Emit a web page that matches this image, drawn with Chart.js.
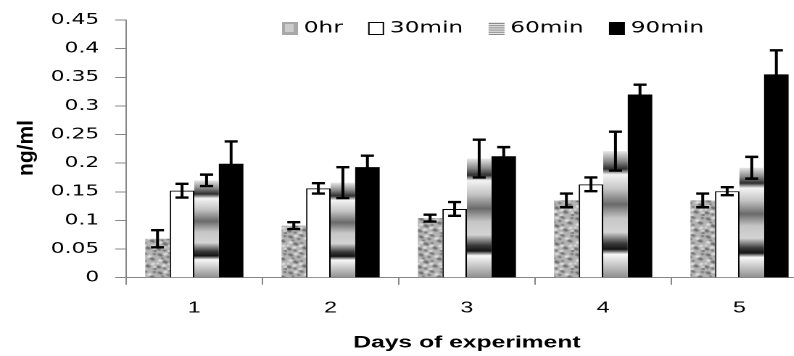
<!DOCTYPE html>
<html><head><meta charset="utf-8">
<script src="https://cdn.jsdelivr.net/npm/chart.js@4.4.1/dist/chart.umd.min.js"></script>
<style>
html,body{margin:0;padding:0;background:#fff;overflow:hidden;}
#wrap{width:794px;height:356px;overflow:hidden;position:relative;background:#fff;}
#c{display:block;}
</style></head><body>
<div id="wrap"><canvas id="c" width="560" height="356" style="width:812px;height:356px"></canvas></div>
<script>
// ---- data ----
const categories = ['1', '2', '3', '4', '5'];
const seriesLabels = ['0hr', '30min', '60min', '90min'];
const values0hr  = [0.068, 0.091, 0.104, 0.135, 0.135];
const values30   = [0.152, 0.156, 0.120, 0.163, 0.151];
const values60   = [0.170, 0.166, 0.208, 0.221, 0.192];
const values90   = [0.199, 0.193, 0.212, 0.320, 0.355];
const err0hr = [0.015, 0.006, 0.006, 0.012, 0.012];
const err30  = [0.012, 0.009, 0.012, 0.012, 0.007];
const err60  = [0.010, 0.027, 0.033, 0.034, 0.019];
const err90  = [0.039, 0.020, 0.016, 0.017, 0.042];
const yTickLabels = ['0', '0.05', '0.1', '0.15', '0.2', '0.25', '0.3', '0.35', '0.4', '0.45'];
const xTitle = 'Days of experiment';
const yTitle = 'ng/ml';

// ---- textures ----
function makeGranite() {
  const t = document.createElement('canvas');
  t.width = 36; t.height = 36;
  const g = t.getContext('2d');
  g.fillStyle = '#b4b4b4'; g.fillRect(0, 0, 36, 36);
  g.filter = 'blur(1.2px)';
  const dark = [[5,6,4,2.6],[20,3,3.5,2.2],[30,14,4,2.6],[12,20,4.2,2.8],[3,30,3.6,2.6],[24,28,4,2.8],[34,34,3,2.2],[16,10,2.6,2],[33,4,2.4,2],[8,13,2,2.2],[20,18,2.2,1.8],[11,33,2.6,2]];
  const light = [[12,4,3,2.2],[26,9,3.2,2.4],[5,17,3,2.6],[19,24,3.2,2.4],[31,24,3,2.2],[10,27,3,2.4],[18,34,2.8,2],[1,23,2.2,2],[33,30,2.2,1.8]];
  g.fillStyle = '#6e6e6e';
  dark.forEach(([x,y,rx,ry]) => { g.beginPath(); g.ellipse(x,y,rx,ry,0.6,0,Math.PI*2); g.fill(); });
  g.fillStyle = '#e2e2e2';
  light.forEach(([x,y,rx,ry]) => { g.beginPath(); g.ellipse(x,y,rx,ry,-0.4,0,Math.PI*2); g.fill(); });
  return t;
}
const graniteTile = makeGranite();
const cvs = document.getElementById('c');
const mainCtx = cvs.getContext('2d');
const granite = mainCtx.createPattern(graniteTile, 'repeat');
try { granite.setTransform(new DOMMatrix().scale(0.5, 0.5)); } catch (e) {}

const bandStops = [
  [0.00, '#e8e8e8'], [0.08, '#8a8a8a'], [0.14, '#2e2e2e'], [0.185, '#f4f4f4'],
  [0.30, '#c4c4c4'], [0.42, '#6a6a6a'], [0.53, '#c6c6c6'], [0.64, '#d4d4d4'],
  [0.73, '#3a3a3a'], [0.775, '#151515'], [0.815, '#f8f8f8'], [1.00, '#8e8e8e']
];
function bandFill(c) {
  const chart = c.chart;
  if (c.type !== 'data' || !chart.scales || !chart.scales.y) return '#999';
  const ys = chart.scales.y;
  const top = ys.getPixelForValue(c.raw);
  const base = ys.getPixelForValue(0);
  if (!isFinite(top) || !isFinite(base) || base - top < 1) return '#999';
  const gr = chart.ctx.createLinearGradient(0, top, 0, base);
  bandStops.forEach(([o, col]) => gr.addColorStop(o, col));
  return gr;
}

const errs = [err0hr, err30, err60, err90];

const errorBars = {
  id: 'errorBars',
  afterDatasetsDraw(chart) {
    const ctx = chart.ctx, ys = chart.scales.y;
    ctx.save();
    ctx.strokeStyle = '#000';
    chart.data.datasets.forEach((ds, i) => {
      const meta = chart.getDatasetMeta(i);
      meta.data.forEach((bar, j) => {
        const v = ds.data[j], e = errs[i][j];
        const yT = ys.getPixelForValue(v + e), yB = ys.getPixelForValue(v - e);
        const x = bar.x;
        ctx.lineWidth = 2;
        ctx.beginPath(); ctx.moveTo(x, yT); ctx.lineTo(x, yB); ctx.stroke();
        ctx.lineWidth = 2.4;
        ctx.beginPath();
        ctx.moveTo(x - 4.5, yT); ctx.lineTo(x + 4.5, yT);
        ctx.moveTo(x - 4.5, yB); ctx.lineTo(x + 4.5, yB);
        ctx.stroke();
      });
    });
    ctx.restore();
  }
};

const customLegend = {
  id: 'customLegend',
  afterDraw(chart) {
    const ctx = chart.ctx;
    ctx.save();
    ctx.font = '16px "DejaVu Sans"';
    ctx.textBaseline = 'middle';
    ctx.textAlign = 'left';
    let x = 194.5;
    const by = 22, bw = 11, bh = 13;
    seriesLabels.forEach((lab, i) => {
      if (i === 0) {
        ctx.fillStyle = '#a8a8a8'; ctx.fillRect(x, by, bw, bh);
        ctx.fillStyle = 'rgba(220,220,220,0.7)'; ctx.fillRect(x + 2, by + 2, bw - 5, bh - 5);
      } else if (i === 1) {
        ctx.fillStyle = '#fff'; ctx.fillRect(x, by, bw, bh);
        ctx.strokeStyle = '#000'; ctx.lineWidth = 1; ctx.strokeRect(x + 0.5, by + 0.5, bw - 1, bh - 1);
      } else if (i === 2) {
        ctx.fillStyle = '#e4e4e4'; ctx.fillRect(x, by, bw, bh);
        ctx.fillStyle = '#8c8c8c';
        for (let k = 1; k < bh; k += 2.2) ctx.fillRect(x, by + k, bw, 1);
      } else {
        ctx.fillStyle = '#000'; ctx.fillRect(x, by, bw, bh);
      }
      ctx.fillStyle = '#000';
      ctx.fillText(lab, x + bw + 4, 28.5);
      x += bw + 4 + ctx.measureText(lab).width + 17.5;
    });
    ctx.restore();
  }
};

const yTitlePlugin = {
  id: 'yTitlePlugin',
  afterDraw(chart) {
    const ctx = chart.ctx;
    ctx.save();
    ctx.translate(18.4, 148);
    ctx.rotate(-Math.PI / 2);
    ctx.scale(1, 0.72);
    ctx.font = 'bold 21px "Liberation Sans"';
    ctx.fillStyle = '#000';
    ctx.textAlign = 'center';
    ctx.textBaseline = 'middle';
    ctx.fillText(yTitle, 0, 0);
    ctx.restore();
  }
};

const axisGray = '#868686';

new Chart(cvs, {
  type: 'bar',
  data: {
    labels: categories,
    datasets: [
      { label: seriesLabels[0], data: values0hr, backgroundColor: granite, borderWidth: 0 },
      { label: seriesLabels[1], data: values30, backgroundColor: '#ffffff', borderColor: '#000', borderWidth: 1 },
      { label: seriesLabels[2], data: values60, backgroundColor: bandFill, borderWidth: 0 },
      { label: seriesLabels[3], data: values90, backgroundColor: '#000000', borderWidth: 0 }
    ]
  },
  options: {
    responsive: false,
    devicePixelRatio: 2,
    animation: false,
    categoryPercentage: 0.72,
    barPercentage: 1,
    layout: { padding: { top: 18.7, right: 3, bottom: 0, left: 0 } },
    plugins: { legend: { display: false }, tooltip: { enabled: false } },
    scales: {
      x: {
        grid: { offset: true, drawOnChartArea: false, drawTicks: true, tickLength: 7, color: axisGray },
        border: { color: axisGray, width: 1 },
        ticks: { color: '#000', font: { family: 'Liberation Sans', size: 16 }, padding: 14 },
        title: { display: true, text: xTitle, color: '#000', font: { family: 'Liberation Sans', size: 17, weight: 'bold' }, padding: { top: 0, bottom: 3 } },
        afterFit(s) { s.height = 78.3; }
      },
      y: {
        min: 0, max: 0.45,
        grid: { drawOnChartArea: false, drawTicks: true, tickLength: 7.6, color: axisGray },
        border: { color: axisGray, width: 1 },
        ticks: { stepSize: 0.05, color: '#000', font: { family: 'DejaVu Sans', size: 15 }, padding: 11,
          callback: (v, i) => yTickLabels[i] },
        afterFit(s) { s.width = 87; }
      }
    }
  },
  plugins: [errorBars, customLegend, yTitlePlugin]
});
</script>
</body></html>
